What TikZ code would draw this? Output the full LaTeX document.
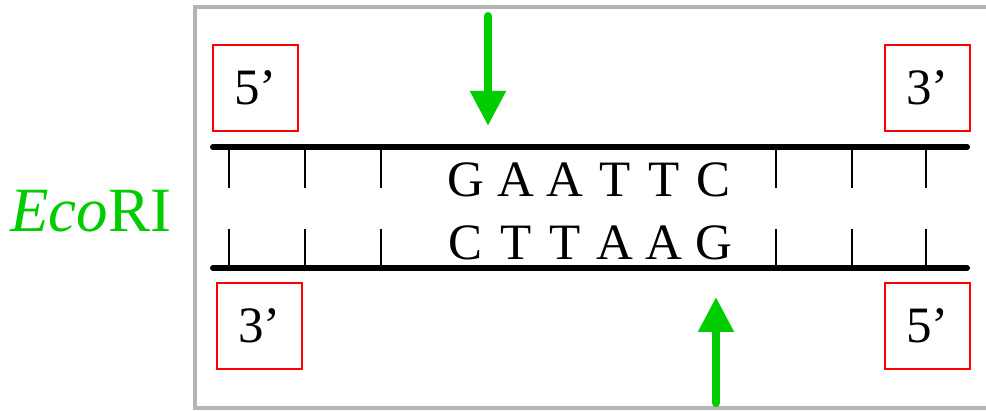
\documentclass[tikz,border=0pt]{standalone}
\usepackage{fontspec}
\setmainfont{Liberation Serif}
\usetikzlibrary{arrows.meta}
\definecolor{ecogreen}{RGB}{0,204,0}
\definecolor{framegray}{RGB}{180,180,180}
\tikzset{
  strand/.style={line width=6pt, line cap=round},
  tick/.style={line width=1.5pt},
  endbox/.style={draw=red, line width=1.3pt, minimum width=85pt, minimum height=86pt, inner sep=0pt, font=\fontsize{51}{60}\selectfont},
  base/.style={inner sep=0pt, anchor=base, font=\fontsize{51}{60}\selectfont},
  cutarrow/.style={draw=ecogreen, line width=8pt, line cap=round, -{Triangle[width=34pt,length=35pt,fill=ecogreen]}},
}
\begin{document}
\begin{tikzpicture}[x=1pt,y=-1pt]
\useasboundingbox (0,0) rectangle (986,411);
% frame
\draw[framegray, line width=4pt] (995,7) -- (195,7) -- (195,408) -- (995,408);
% label
\node[text=ecogreen, inner sep=0pt, anchor=base west, font=\fontsize{63}{70}\selectfont] (eco) at (10,232) {\textit{Eco}RI};
% strands
\coordinate (t1) at (213,147); \coordinate (t2) at (967,147);
\coordinate (b1) at (213,268); \coordinate (b2) at (967,268);
\draw[strand] (t1) -- (t2);
\draw[strand] (b1) -- (b2);
% ticks
\foreach \x in {229,305,381,776,852,926}{
  \draw[tick] (\x,149) -- (\x,188);
  \draw[tick] (\x,229) -- (\x,267);
}
% bases
\foreach \l [count=\i from 0] in {G,A,A,T,T,C}{
  \node[base] (top\i) at (466+49.6*\i,197) {\l};
}
\foreach \l [count=\i from 0] in {C,T,T,A,A,G}{
  \node[base] (bot\i) at (466+49.6*\i,260) {\l};
}
% end boxes
\node[endbox] (tl) at (255.5,88) {5’};
\node[endbox] (tr) at (927.5,88) {3’};
\node[endbox] (bl) at (259.5,326) {3’};
\node[endbox] (br) at (927.5,326) {5’};
% arrows
\coordinate (a1s) at (488,16); \coordinate (a1e) at (488,126);
\coordinate (a2s) at (716,403); \coordinate (a2e) at (716,297);
\draw[cutarrow] (a1s) -- (a1e);
\draw[cutarrow] (a2s) -- (a2e);
\end{tikzpicture}
\end{document}
